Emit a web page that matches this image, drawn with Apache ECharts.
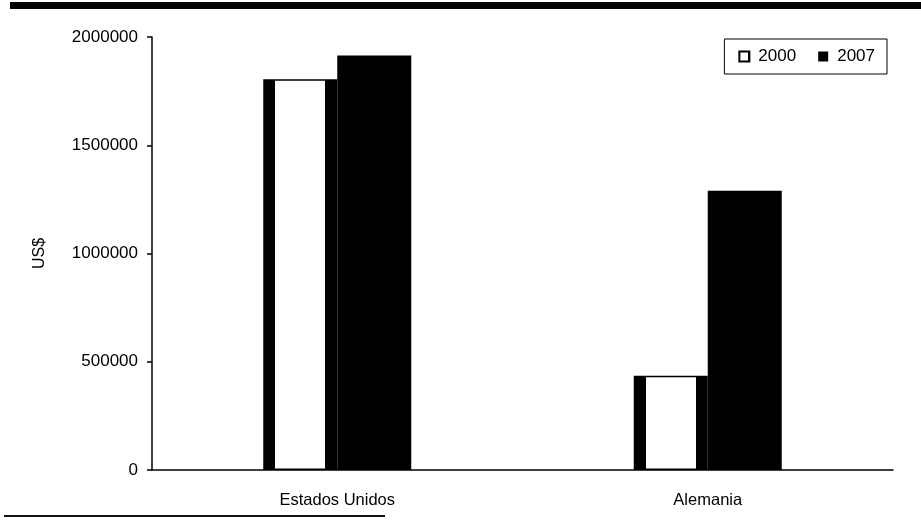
<!DOCTYPE html>
<html>
<head>
<meta charset="utf-8">
<script src="https://cdn.jsdelivr.net/npm/echarts@6/dist/echarts.min.js"></script>
<style>
html,body{margin:0;padding:0;background:#fff;}
#chart{width:921px;height:531px;}
</style>
</head>
<body>
<div id="chart"></div>
<script>
var categories = ['Estados Unidos', 'Alemania'];
var seriesNames = ['2000', '2007'];
var values2000 = [1805000, 435000];
var values2007 = [1915000, 1290000];

var FONT = "'Liberation Sans', Arial, sans-serif";
var chart = echarts.init(document.getElementById('chart'));

var whiteBar = new echarts.graphic.LinearGradient(0, 0, 1, 0, [
  {offset: 0, color: '#000'},
  {offset: 0.16, color: '#000'},
  {offset: 0.165, color: '#fff'},
  {offset: 0.835, color: '#fff'},
  {offset: 0.84, color: '#000'},
  {offset: 1, color: '#000'}
]);

chart.setOption({
  animation: false,
  backgroundColor: '#fff',
  textStyle: {fontFamily: FONT, color: '#000'},
  grid: {left: 152, right: 28, top: 37, bottom: 61, containLabel: false},
  legend: {
    top: 39, right: 34,
    orient: 'horizontal',
    data: seriesNames,
    icon: 'rect',
    itemWidth: 10, itemHeight: 10,
    itemGap: 22,
    borderColor: '#000', borderWidth: 1,
    padding: [9, 12, 9, 14],
    textStyle: {fontFamily: FONT, fontSize: 17, color: '#000', padding: [0, 0, 0, 4]}
  },
  xAxis: {
    type: 'category',
    data: categories,
    axisLine: {show: true, lineStyle: {color: '#000', width: 1.5}},
    axisTick: {show: false},
    axisLabel: {fontFamily: FONT, fontSize: 16.5, color: '#000', margin: 22}
  },
  yAxis: {
    type: 'value',
    min: 0, max: 2000000, interval: 500000,
    name: 'US$',
    nameLocation: 'middle',
    nameRotate: 90,
    nameGap: 104,
    nameTextStyle: {fontFamily: FONT, fontSize: 16, color: '#000'},
    axisLine: {show: true, lineStyle: {color: '#000', width: 1.5}},
    axisTick: {show: true, length: 5, lineStyle: {color: '#000', width: 1.5}},
    splitLine: {show: false},
    axisLabel: {fontFamily: FONT, fontSize: 17, color: '#000', margin: 14,
      formatter: function (v) { return String(v); }}
  },
  series: [
    {
      name: seriesNames[0],
      type: 'bar',
      data: values2000,
      barWidth: 74,
      barGap: '0%',
      itemStyle: {color: whiteBar, borderColor: '#000', borderWidth: 1.5}
    },
    {
      name: seriesNames[1],
      type: 'bar',
      data: values2007,
      barWidth: 74,
      itemStyle: {color: '#000'}
    }
  ],
  graphic: [
    {type: 'rect', left: 10, top: 2, shape: {width: 911, height: 7}, style: {fill: '#000'}},
    {type: 'rect', left: 4, top: 515, shape: {width: 381, height: 2}, style: {fill: '#111'}}
  ]
});
</script>
</body>
</html>
